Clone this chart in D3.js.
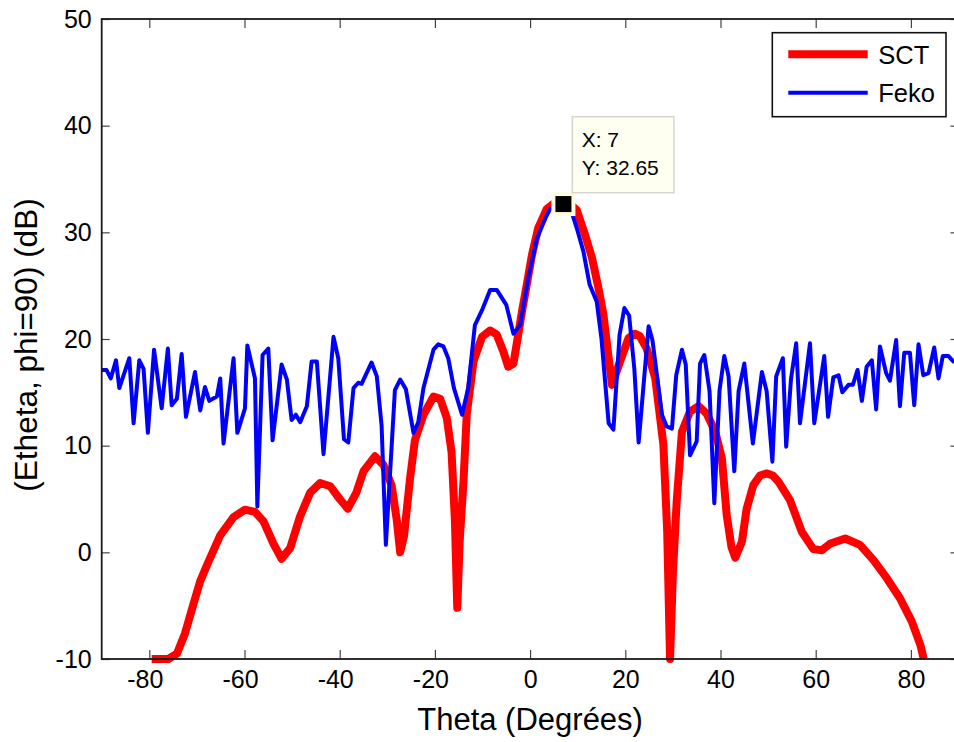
<!DOCTYPE html>
<html>
<head>
<meta charset="utf-8">
<script src="https://cdn.jsdelivr.net/npm/d3@7"></script>
<style>
  body { margin: 0; background: #fff; }
  svg { display: block; font-family: "Liberation Sans", Arial, Helvetica, sans-serif; }
</style>
</head>
<body>
<svg id="chart" width="954" height="742"></svg>
<script>
// ---------------- DATA ----------------
const xTicks = [-80, -60, -40, -20, 0, 20, 40, 60, 80];
const yTicks = [-10, 0, 10, 20, 30, 40, 50];
const seriesNames = ["SCT", "Feko"];

// SCT (red, thick)
const sctTheta = [-79.5, -76, -74.2, -72.5, -70.7, -69.3, -67.6, -65.1, -62.3, -59.9, -57.8, -56, -53.9, -52.2, -50.4,
  -48.3, -46.2, -44.1, -42, -40, -38.3, -36.5, -35, -32.6, -30.8, -29.1, -28, -27.3, -26.5, -25.2, -24.2, -22.4,
  -20.3, -18.9, -17.5, -16.5, -15.8, -15.3, -14.8, -14.0, -13.3, -11.9, -10.1, -8.4, -7.0, -5.6, -4.6, -3.5, -2.5,
  -1.7, -0.7, 0.4, 1.7, 3.5, 5, 7, 8.5, 9.8, 11.6, 13.0, 14.4, 15.4, 16.3, 17.2, 18.9, 20.7, 22.0, 23, 24.5, 26.3,
  28.0, 28.8, 29.4, 30.0, 30.8, 31.9, 33.6, 35.4, 37.1, 38.9, 40.3, 41.3, 42.3, 43.1, 44.5, 45.5, 46.9, 48.3, 49.7,
  51, 52.2, 54.6, 57.1, 59.5, 61.3, 63.0, 66.2, 69.3, 72.1, 74.9, 77.7, 80.2, 82.0, 82.7];
const sctValue = [-10, -10, -9.5, -7.6, -4.8, -2.7, -0.9, 1.6, 3.3, 4.0, 3.8, 2.9, 0.8, -0.6, 0.4,
  3.4, 5.6, 6.5, 6.2, 5.0, 4.1, 5.6, 7.6, 9.0, 8.2, 6.3, 3, 0.0, 1.5, 7.0, 10.5, 12.9,
  14.6, 14.4, 12.6, 9.4, 3, -5.2, 1, 6.6, 13.0, 17.9, 20.2, 20.8, 20.4, 18.8, 17.4, 17.7, 20.4,
  22.6, 25.1, 27.9, 30.4, 32.2, 32.7, 32.8, 32.6, 32.1, 29.7, 27.6, 24.7, 22.3, 19, 15.7, 17.9, 20.1, 20.5, 20.3, 19.1, 16.3,
  10.1, 2, -10, -2, 4.8, 11.3, 13.2, 13.7, 13.0, 11.3, 8.8, 3.5, 0.5, -0.5, 1.0, 4.1, 6.3, 7.2, 7.4,
  7.2, 6.6, 4.9, 1.9, 0.3, 0.2, 0.8, 1.3, 0.7, -0.7, -2.4, -4.3, -6.5, -8.7, -10];

// Feko (blue, thin)
const fekoTheta = [-90, -89, -88.1, -87, -86.3, -84.2, -83.3, -82.1, -81.2, -80.3, -79.0, -77.4, -76.1, -75.3, -74.2,
  -73.2, -72.3, -70.4, -69.3, -68.3, -67.4, -65.8, -65.1, -64.4, -62.3, -61.5, -59.9, -59.4, -57.8, -57.3, -56.2,
  -55.0, -54.1, -52.2, -51.1, -50.1, -49.2, -48.3, -46.9, -45.9, -44.8, -43.4, -41.3, -40.3, -39.1, -38.2, -37.1,
  -36.1, -35.4, -33.3, -32.2, -31.2, -30.3, -28.4, -27.3, -26.1, -24.5, -23.5, -22.4, -20.3, -19.3, -18.2, -17.2,
  -16.0, -14.3, -13.0, -11.6, -10.1, -8.4, -7.0, -5.0, -3.5, -2.1, -0.4, 1.4, 3.2, 4.2, 7.0, 8.8, 9.8, 11.2, 12.5,
  14.0, 15.0, 16.5, 17.5, 18.8, 19.8, 20.8, 21.9, 22.8, 24.9, 25.7, 27.7, 28.7, 29.8, 30.7, 31.9, 32.7, 33.6, 35.0,
  35.7, 36.6, 37.7, 38.7, 39.8, 40.8, 41.7, 42.9, 43.8, 45.0, 46.8, 48.7, 49.7, 50.9, 51.7, 53.1, 53.8, 54.8, 55.9,
  56.7, 58.8, 59.7, 61.8, 62.6, 63.7, 64.8, 65.6, 66.9, 67.8, 68.8, 69.7, 70.7, 71.8, 72.7, 73.5, 74.8, 75.6, 76.9,
  77.7, 78.6, 79.8, 80.7, 81.6, 82.6, 83.7, 84.9, 85.8, 86.7, 87.9, 88.9, 90];
const fekoValue = [17.1, 17.1, 16.3, 18.0, 15.4, 18.2, 12.1, 18.0, 17.2, 11.2, 19.0, 13.5, 19.1, 13.8, 14.4,
  18.6, 12.7, 16.9, 13.3, 15.5, 14.2, 14.6, 16.3, 10.2, 18.2, 11.2, 13.5, 19.4, 16.3, 4.3, 18.5,
  19.1, 10.5, 17.6, 16.2, 12.4, 12.9, 12.2, 13.7, 17.9, 17.9, 9.2, 20.2, 18.2, 10.6, 10.3, 15.4,
  15.9, 15.8, 17.8, 16.5, 11.9, 0.7, 15.2, 16.2, 15.3, 11.2, 12.2, 15.4, 19.0, 19.5, 19.3, 18.2,
  15.4, 12.9, 15.4, 21.3, 22.7, 24.6, 24.6, 23.2, 20.5, 21.3, 25.7, 29.4, 31.3, 32.2, 32.65, 31.8, 30.4, 28.2, 25.1,
  23.5, 20.0, 12.1, 11.5, 20.4, 22.9, 22.2, 17.2, 10.3, 21.2, 19.9, 12.9, 11.8, 11.6, 16.6, 19.0, 17.6, 9.1, 10.4,
  17.7, 18.5, 15.1, 4.6, 15.2, 18.4, 16.5, 7.6, 15.1, 17.7, 10.2, 16.9, 15.1, 8.5, 16.5, 18.2, 9.9, 16.2, 19.6,
  12.1, 19.6, 12.1, 18.4, 12.7, 16.4, 16.6, 15.0, 15.7, 15.7, 17.1, 14.2, 17.4, 18.0, 13.4, 19.3, 16.8, 16.1, 19.9,
  13.7, 18.7, 18.7, 13.8, 19.5, 16.6, 16.8, 19.2, 16.3, 18.4, 18.4, 17.9, 17.9];

const tipX = 7, tipY = 32.65;

// ---------------- LAYOUT ----------------
const svg = d3.select("#chart");
const L = 101.7, R = 958.5, T = 19, B = 659;
const x = d3.scaleLinear().domain([-90, 90]).range([L, R]);
const y = d3.scaleLinear().domain([-10, 50]).range([B, T]);
const tickColor = "#444";
const fmt = d => String(d);   // plain hyphen-minus like the original

// Lines
const sct = sctTheta.map((t, i) => [t, sctValue[i]]);
const feko = fekoTheta.map((t, i) => [t, fekoValue[i]]);
const line = d3.line().x(d => x(d[0])).y(d => y(d[1]));

svg.append("path").datum(sct).attr("d", line)
  .attr("fill", "none").attr("stroke", "#ff0000").attr("stroke-width", 8)
  .attr("stroke-linejoin", "round").attr("stroke-linecap", "butt");
svg.append("path").datum(feko).attr("d", line)
  .attr("fill", "none").attr("stroke", "#0000ff").attr("stroke-width", 4)
  .attr("stroke-linejoin", "round");

// Axes
const fontTick = 25;
const gB = svg.append("g").attr("transform", `translate(0,${B})`)
  .call(d3.axisBottom(x).tickValues(xTicks).tickSizeInner(-9).tickSizeOuter(0).tickPadding(11).tickFormat(fmt));
gB.selectAll("text").attr("dx", d => d < 0 ? -4.5 : 0);
const gT = svg.append("g").attr("transform", `translate(0,${T})`)
  .call(d3.axisTop(x).tickValues(xTicks).tickSizeInner(-9).tickSizeOuter(0).tickFormat(""));
const gL = svg.append("g").attr("transform", `translate(${L},0)`)
  .call(d3.axisLeft(y).tickValues(yTicks).tickSizeInner(-8).tickSizeOuter(0).tickPadding(10).tickFormat(fmt));
const gR = svg.append("g").attr("transform", `translate(${R},0)`)
  .call(d3.axisRight(y).tickValues(yTicks).tickSizeInner(-8).tickSizeOuter(0).tickFormat(""));
[gB, gT, gL, gR].forEach(g => {
  g.select(".domain").remove();
  g.selectAll(".tick line").attr("stroke", tickColor).attr("stroke-width", 1.2);
  g.selectAll("text").attr("font-size", fontTick).attr("fill", "#000")
    .attr("font-family", '"Liberation Sans", Arial, sans-serif');
});

// Frame
svg.append("rect").attr("x", L).attr("y", T).attr("width", R - L).attr("height", B - T)
  .attr("fill", "none").attr("stroke", "#1a1a1a").attr("stroke-width", 1.8);

// Axis titles
svg.append("text").attr("x", (L + R) / 2).attr("y", 730).attr("text-anchor", "middle")
  .attr("font-size", 31).attr("fill", "#000").text("Theta (Degrées)");
svg.append("text").attr("transform", "translate(37,345) rotate(-90)").attr("text-anchor", "middle")
  .attr("font-size", 31.5).attr("fill", "#000").text("(Etheta, phi=90) (dB)");

// Legend
const lg = svg.append("g");
lg.append("rect").attr("x", 772.3).attr("y", 32.7).attr("width", 173.7).attr("height", 84)
  .attr("fill", "#fff").attr("stroke", "#111").attr("stroke-width", 1.6);
const legendColors = ["#ff0000", "#0000ff"], legendWidths = [8, 4], legendY = [54.3, 92.7];
seriesNames.forEach((n, i) => {
  lg.append("line").attr("x1", 788.3).attr("x2", 867.7).attr("y1", legendY[i]).attr("y2", legendY[i])
    .attr("stroke", legendColors[i]).attr("stroke-width", legendWidths[i]);
  lg.append("text").attr("x", 878.3).attr("y", legendY[i] + 9.6).attr("font-size", 25.5)
    .attr("fill", "#000").text(n);
});

// Data tip
const mx = x(tipX), my = y(tipY);
svg.append("rect").attr("x", mx - 12).attr("y", my - 12).attr("width", 24).attr("height", 24)
  .attr("fill", "#fdfbe0");
svg.append("rect").attr("x", mx - 8).attr("y", my - 8).attr("width", 16).attr("height", 16)
  .attr("fill", "#000");
svg.append("rect").attr("x", 572.3).attr("y", 116.7).attr("width", 101.7).attr("height", 76)
  .attr("fill", "#fefff0").attr("stroke", "#d6d6d0").attr("stroke-width", 1.5);
svg.append("text").attr("x", 581.7).attr("y", 147).attr("font-size", 21).attr("fill", "#000").text("X: " + tipX);
svg.append("text").attr("x", 581.7).attr("y", 175).attr("font-size", 21).attr("fill", "#000").text("Y: " + tipY);
</script>
</body>
</html>
